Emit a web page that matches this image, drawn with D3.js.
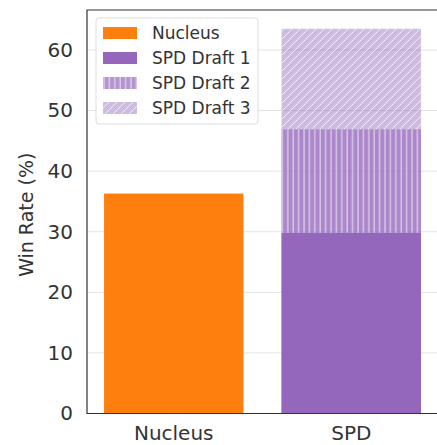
<!DOCTYPE html>
<html>
<head>
<meta charset="utf-8">
<script src="https://cdn.jsdelivr.net/npm/d3@7"></script>
<style>
  html, body { margin: 0; padding: 0; background: #fff; }
  svg { display: block; font-family: "DejaVu Sans", sans-serif; }
</style>
</head>
<body>
<svg id="chart" width="437" height="445"></svg>
<script>
// Categories on the x axis
const categories = ["Nucleus", "SPD"];
// Win rates (%)
const nucleusValues = [36.3];
const spdDraft1 = [29.8];
const spdDraft2 = [46.9];
const spdDraft3 = [63.5];
const yTicks = [0, 10, 20, 30, 40, 50, 60];
const legendLabels = ["Nucleus", "SPD Draft 1", "SPD Draft 2", "SPD Draft 3"];

const W = 437, H = 445;
const margin = { left: 87, top: 10, bottom: 31.5 };
const innerW = 351;
const innerH = H - margin.top - margin.bottom;

const svg = d3.select("#chart");

// Hatch patterns for the later drafts
const defs = svg.append("defs");
const pv = defs.append("pattern").attr("id", "hatchV")
  .attr("patternUnits", "userSpaceOnUse").attr("width", 5.4).attr("height", 10);
pv.append("line").attr("x1", 1).attr("x2", 1).attr("y1", 0).attr("y2", 10)
  .attr("stroke", "#fff").attr("stroke-width", 1).attr("stroke-opacity", 0.75);
const pd = defs.append("pattern").attr("id", "hatchD")
  .attr("patternUnits", "userSpaceOnUse").attr("width", 8).attr("height", 8);
pd.append("path").attr("d", "M-2,2 L2,-2 M0,8 L8,0 M6,10 L10,6")
  .attr("stroke", "#fff").attr("stroke-width", 1).attr("stroke-opacity", 0.7);

const g = svg.append("g").attr("transform", `translate(${margin.left},${margin.top})`);

const x = d3.scaleBand().domain(categories).range([0, innerW]).paddingInner(0.215).paddingOuter(0.096);
const y = d3.scaleLinear().domain([0, 66.6]).range([innerH, 0]);

// Horizontal grid
g.append("g").selectAll("line").data(yTicks).join("line")
  .attr("x1", 0).attr("x2", innerW)
  .attr("y1", d => y(d)).attr("y2", d => y(d))
  .attr("stroke", "#e3e3e3").attr("stroke-width", 1);

const purple = "#9467bd";
const orange = "#ff7f0e";

// Nucleus bar
g.append("g").selectAll("rect").data(nucleusValues).join("rect")
  .attr("x", x("Nucleus")).attr("width", x.bandwidth())
  .attr("y", d => y(d)).attr("height", d => y(0) - y(d))
  .attr("fill", orange);

// SPD drafts drawn overlapping from zero, latest draft at the back
const spdLayers = [
  { vals: spdDraft3, opacity: 0.45, pattern: "url(#hatchD)" },
  { vals: spdDraft2, opacity: 0.6, pattern: "url(#hatchV)" },
  { vals: spdDraft1, opacity: 1, pattern: null }
];
spdLayers.forEach((layer, idx) => {
  const lg = g.append("g");
  lg.selectAll("rect.fill").data(layer.vals).join("rect").attr("class", "fill")
    .attr("x", x("SPD")).attr("width", x.bandwidth())
    .attr("y", d => y(d)).attr("height", d => y(0) - y(d))
    .attr("fill", purple).attr("fill-opacity", layer.opacity);
  if (layer.pattern) {
    // hatch only over the part of the bar not covered by the earlier draft
    const below = spdLayers[idx + 1].vals;
    lg.selectAll("rect.hatch").data(layer.vals).join("rect").attr("class", "hatch")
      .attr("x", x("SPD")).attr("width", x.bandwidth())
      .attr("y", d => y(d)).attr("height", (d, i) => y(below[i]) - y(d))
      .attr("fill", layer.pattern);
  }
});

// Frame: top, left and bottom spines (right spine sits past the edge)
g.append("path")
  .attr("d", `M${innerW + 2},0 H0 V${innerH} H${innerW + 2}`)
  .attr("fill", "none").attr("stroke", "#333").attr("stroke-width", 1.2);

// Axes
const yAxis = g.append("g").call(d3.axisLeft(y).tickValues(yTicks).tickSize(0).tickPadding(14));
yAxis.select(".domain").remove();
yAxis.selectAll("text").attr("font-size", 20).attr("fill", "#333")
  .attr("font-family", "DejaVu Sans, sans-serif");

const xAxis = g.append("g").attr("transform", `translate(0,${innerH})`)
  .call(d3.axisBottom(x).tickSize(0).tickPadding(12));
xAxis.select(".domain").remove();
xAxis.selectAll("text").attr("font-size", 20).attr("fill", "#333")
  .attr("font-family", "DejaVu Sans, sans-serif");

// Y label
svg.append("text")
  .attr("transform", `translate(33,${margin.top + innerH / 2 + 3}) rotate(-90)`)
  .attr("text-anchor", "middle").attr("font-size", 19).attr("fill", "#333")
  .text("Win Rate (%)");

// Legend
const leg = svg.append("g").attr("transform", "translate(96,18)");
leg.append("rect").attr("width", 162).attr("height", 106).attr("rx", 3)
  .attr("fill", "#fff").attr("fill-opacity", 0.85).attr("stroke", "#ddd");
const handles = [
  { fill: orange, op: 1, pattern: null },
  { fill: purple, op: 1, pattern: null },
  { fill: purple, op: 0.7, pattern: "url(#hatchV)" },
  { fill: purple, op: 0.45, pattern: "url(#hatchD)" }
];
const rows = leg.selectAll("g.row").data(legendLabels).join("g").attr("class", "row")
  .attr("transform", (d, i) => `translate(7,${15 + i * 25})`);
rows.append("rect").attr("x", 0).attr("y", -6).attr("width", 34).attr("height", 12)
  .attr("fill", (d, i) => handles[i].fill).attr("fill-opacity", (d, i) => handles[i].op);
rows.filter((d, i) => handles[i].pattern).append("rect")
  .attr("x", 0).attr("y", -6).attr("width", 34).attr("height", 12)
  .attr("fill", d => handles[legendLabels.indexOf(d)].pattern);
rows.append("text").attr("x", 49).attr("y", 0).attr("dy", "0.35em")
  .attr("font-size", 17).attr("fill", "#333").text(d => d);
</script>
</body>
</html>
